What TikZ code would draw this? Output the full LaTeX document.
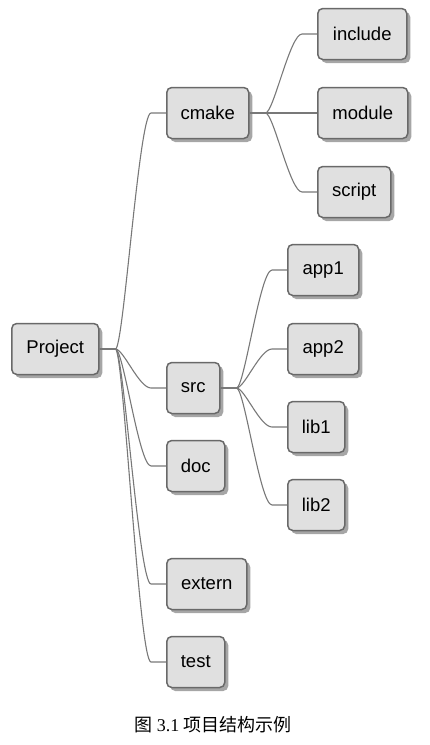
\documentclass[tikz,border=0pt]{standalone}
\usepackage{fontspec}
\setmainfont{Liberation Sans}
\newfontfamily\serifnum{Liberation Serif}
\newfontfamily\cjk{Noto Sans CJK SC}
\usetikzlibrary{shadows}
\definecolor{boxfill}{RGB}{224,224,224}
\definecolor{boxline}{RGB}{105,105,105}
\definecolor{connline}{RGB}{120,120,120}
\tikzset{
  box/.style={draw=boxline, line width=1.5pt, fill=boxfill, rounded corners=5pt,
    minimum height=51pt, inner sep=0pt, anchor=west,
    font=\fontsize{18.5}{22}\selectfont,
    drop shadow={shadow xshift=3.5pt, shadow yshift=-3.5pt, opacity=0.35, fill=black}},
  conn/.style={draw=connline, line width=1.1pt},
}
\newcommand{\linkto}[2]{\draw[conn] (#1.east) -- ++(16,0) .. controls +(8,0) and +(-12,0) .. ([xshift=-15pt]#2.west) -- (#2.west);}
\begin{document}
\begin{tikzpicture}[x=1pt,y=-1pt]
\useasboundingbox (0,0) rectangle (430,745);
\node[box, minimum width=87pt] (project) at (11,349) {Project};
\node[box, minimum width=82pt] (cmake) at (166,113) {cmake};
\node[box, minimum width=89pt] (include) at (317,34) {include};
\node[box, minimum width=90pt] (module) at (317,113) {module};
\node[box, minimum width=73pt] (script) at (317,192) {script};
\node[box, minimum width=53pt] (src) at (166,388) {src};
\node[box, minimum width=71pt] (app1) at (287,270) {app1};
\node[box, minimum width=71pt] (app2) at (287,349) {app2};
\node[box, minimum width=57pt] (lib1) at (287,427) {lib1};
\node[box, minimum width=57pt] (lib2) at (287,505) {lib2};
\node[box, minimum width=58pt] (doc) at (166,466) {doc};
\node[box, minimum width=80pt] (extern) at (166,584) {extern};
\node[box, minimum width=58pt] (test) at (166,662) {test};
\linkto{project}{cmake}
\linkto{project}{src}
\linkto{project}{doc}
\linkto{project}{extern}
\linkto{project}{test}
\linkto{cmake}{include}
\linkto{cmake}{module}
\linkto{cmake}{script}
\linkto{src}{app1}
\linkto{src}{app2}
\linkto{src}{lib1}
\linkto{src}{lib2}
\node[font=\fontsize{18}{22}\selectfont] (caption) at (213,725) {\cjk 图\ {\serifnum 3.1}\ 项目结构示例};
\end{tikzpicture}
\end{document}
